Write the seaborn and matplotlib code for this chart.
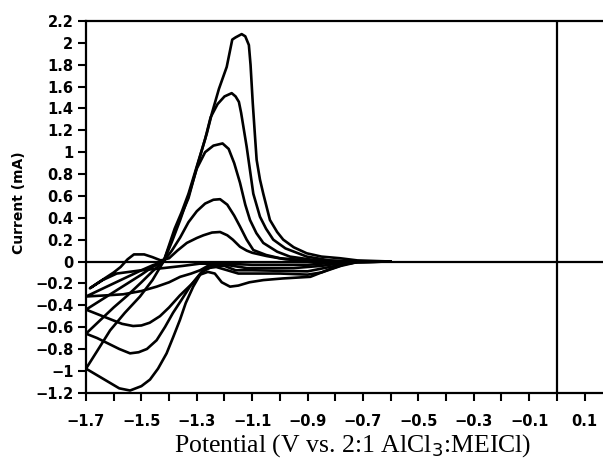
import matplotlib
matplotlib.use("Agg")
import matplotlib.pyplot as plt
import numpy as np
import pandas as pd
import seaborn as sns
from matplotlib.ticker import FixedLocator, FuncFormatter

# ---------------- data ----------------
scan1_potential = [-0.6, -0.8, -0.9, -1.0, -1.1, -1.2, -1.29, -1.35, -1.42, -1.5, -1.589, -1.64, -1.686,
                   -1.66, -1.63, -1.6, -1.575, -1.55, -1.527, -1.49, -1.46, -1.43, -1.40, -1.37, -1.336,
                   -1.30, -1.276, -1.245, -1.216, -1.19, -1.17, -1.144, -1.12, -1.1, -1.048, -0.98, -0.9, -0.6]
scan1_current = [0.0, -0.01, -0.03, -0.03, -0.03, -0.02, -0.02, -0.04, -0.06, -0.08, -0.11, -0.17, -0.245,
                 -0.2, -0.15, -0.1, -0.05, 0.02, 0.065, 0.065, 0.04, 0.01, 0.03, 0.1, 0.17,
                 0.215, 0.24, 0.265, 0.27, 0.24, 0.2, 0.135, 0.1, 0.08, 0.05, 0.02, 0.005, 0.0]

scan2_potential = [-0.6, -0.75, -0.85, -0.95, -1.05, -1.12, -1.17, -1.22, -1.26, -1.288, -1.32, -1.36, -1.40,
                   -1.445, -1.5, -1.566, -1.63, -1.7,
                   -1.65, -1.6, -1.55, -1.5, -1.46, -1.42, -1.39, -1.36, -1.33, -1.30, -1.27, -1.24, -1.216,
                   -1.19, -1.165, -1.144, -1.12, -1.096, -1.05, -1.0, -0.9, -0.8, -0.6]
scan2_current = [0.0, -0.005, -0.04, -0.06, -0.06, -0.06, -0.04, -0.02, -0.04, -0.08, -0.11, -0.14, -0.19,
                 -0.23, -0.27, -0.30, -0.31, -0.32,
                 -0.26, -0.2, -0.14, -0.08, -0.035, 0.0, 0.1, 0.22, 0.36, 0.46, 0.53, 0.565, 0.57,
                 0.52, 0.42, 0.32, 0.2, 0.105, 0.06, 0.03, 0.01, 0.0, 0.0]

scan3_potential = [-0.6, -0.72, -0.8, -0.9, -1.0, -1.1, -1.16, -1.2, -1.24, -1.27, -1.288, -1.32, -1.361,
                   -1.40, -1.433, -1.47, -1.5, -1.53, -1.57, -1.62, -1.66, -1.7,
                   -1.65, -1.6, -1.55, -1.5, -1.46, -1.42, -1.39, -1.36, -1.33, -1.30, -1.27, -1.24, -1.207,
                   -1.185, -1.165, -1.144, -1.125, -1.108, -1.085, -1.06, -1.01, -0.964, -0.88, -0.78, -0.6]
scan3_current = [0.0, -0.005, -0.04, -0.09, -0.085, -0.08, -0.08, -0.04, -0.04, -0.08, -0.12, -0.21, -0.31,
                 -0.42, -0.50, -0.56, -0.585, -0.59, -0.57, -0.52, -0.48, -0.44,
                 -0.36, -0.28, -0.2, -0.12, -0.05, 0.0, 0.18, 0.38, 0.6, 0.85, 1.0, 1.06, 1.08,
                 1.03, 0.9, 0.72, 0.52, 0.38, 0.26, 0.17, 0.09, 0.045, 0.015, 0.0, 0.0]

scan4_potential = [-0.6, -0.72, -0.78, -0.85, -0.9, -1.0, -1.08, -1.15, -1.19, -1.23, -1.26, -1.278, -1.30,
                   -1.325, -1.355, -1.386, -1.415, -1.445, -1.48, -1.51, -1.541, -1.58, -1.62, -1.66, -1.7,
                   -1.65, -1.6, -1.55, -1.5, -1.46, -1.42, -1.39, -1.36, -1.33, -1.30, -1.27, -1.25, -1.225,
                   -1.2, -1.174, -1.16, -1.148, -1.14, -1.12, -1.096, -1.072, -1.05, -1.024, -0.98, -0.903,
                   -0.82, -0.72, -0.6]
scan4_current = [0.0, -0.005, -0.04, -0.10, -0.12, -0.11, -0.11, -0.11, -0.08, -0.05, -0.06, -0.08, -0.15,
                 -0.23, -0.35, -0.47, -0.60, -0.72, -0.80, -0.83, -0.84, -0.80, -0.75, -0.70, -0.66,
                 -0.54, -0.42, -0.31, -0.19, -0.09, 0.0, 0.2, 0.4, 0.58, 0.86, 1.12, 1.32, 1.44,
                 1.51, 1.54, 1.51, 1.46, 1.36, 1.05, 0.62, 0.41, 0.3, 0.2, 0.12, 0.045,
                 0.01, 0.0, 0.0]

scan5_potential = [-0.6, -0.72, -0.76, -0.82, -0.89, -0.99, -1.06, -1.11, -1.15, -1.18, -1.21, -1.235, -1.26,
                   -1.288, -1.313, -1.34, -1.361, -1.385, -1.409, -1.44, -1.469, -1.50, -1.541, -1.58,
                   -1.62, -1.66, -1.7,
                   -1.66, -1.613, -1.56, -1.505, -1.46, -1.42, -1.40, -1.38, -1.355, -1.33, -1.30, -1.264,
                   -1.245, -1.22, -1.192, -1.172, -1.16, -1.138, -1.125, -1.112, -1.106, -1.098, -1.09,
                   -1.084, -1.072, -1.06, -1.036, -1.01, -0.988, -0.95, -0.903, -0.85, -0.783, -0.72, -0.6]
scan5_current = [0.0, -0.005, -0.02, -0.07, -0.14, -0.155, -0.17, -0.19, -0.22, -0.23, -0.19, -0.11, -0.095,
                 -0.12, -0.23, -0.38, -0.535, -0.69, -0.84, -0.98, -1.08, -1.14, -1.18, -1.16,
                 -1.10, -1.04, -0.98,
                 -0.82, -0.63, -0.47, -0.32, -0.17, 0.0, 0.15, 0.3, 0.45, 0.62, 0.87, 1.17,
                 1.36, 1.58, 1.78, 2.03, 2.05, 2.08, 2.06, 1.98, 1.8, 1.45, 1.15,
                 0.93, 0.75, 0.62, 0.38, 0.27, 0.20, 0.13, 0.075, 0.045, 0.03, 0.01, 0.0]

x_tick_values = [-1.7, -1.5, -1.3, -1.1, -0.9, -0.7, -0.5, -0.3, -0.1, 0.1]
x_minor_values = [-1.6, -1.4, -1.2, -1.0, -0.8, -0.6, -0.4, -0.2, 0.0]
y_tick_values = [-1.2, -1.0, -0.8, -0.6, -0.4, -0.2, 0.0, 0.2, 0.4, 0.6, 0.8, 1.0,
                 1.2, 1.4, 1.6, 1.8, 2.0, 2.2]

x_label = r"Potential (V vs. 2:1 AlCl$_3$:MEICl)"
y_label = "Current (mA)"

scans = {
    "scan1": (scan1_potential, scan1_current),
    "scan2": (scan2_potential, scan2_current),
    "scan3": (scan3_potential, scan3_current),
    "scan4": (scan4_potential, scan4_current),
    "scan5": (scan5_potential, scan5_current),
}
frames = []
for name, (e, i) in scans.items():
    frames.append(pd.DataFrame({"scan": name, "step": np.arange(len(e)),
                                "E": e, "I": i}))
df = pd.concat(frames, ignore_index=True)

# ---------------- figure ----------------
sns.set_theme(style="ticks")
plt.rcParams["font.family"] = ["DejaVu Sans"]

W, H = 603, 458
fig = plt.figure(figsize=(W / 100, H / 100), dpi=100)
left, right, top, bottom = 86, 603, 21, 392.7
ax = fig.add_axes([left / W, 1 - bottom / H, (right - left) / W, (bottom - top) / H])

sns.lineplot(data=df, x="E", y="I", units="scan", estimator=None, sort=False,
             color="black", linewidth=1.9, ax=ax, legend=False)

ax.axhline(0, color="black", lw=1.6, zorder=1)
ax.axvline(0, color="black", lw=1.6, zorder=1)

px_per_volt = 277.0
ax.set_xlim(-1.7, -1.7 + (right - left) / px_per_volt)
ax.set_ylim(-1.2, 2.2)

ax.xaxis.set_major_locator(FixedLocator(x_tick_values))
ax.xaxis.set_minor_locator(FixedLocator(x_minor_values))
ax.yaxis.set_major_locator(FixedLocator(y_tick_values))


def fmt_x(v, pos):
    return f"{v:.1f}".replace("-", "\u2212")


def fmt_y(v, pos):
    v = round(v, 1)
    s = f"{v:g}"
    if s == "-0":
        s = "0"
    return s.replace("-", "\u2212")


ax.xaxis.set_major_formatter(FuncFormatter(fmt_x))
ax.yaxis.set_major_formatter(FuncFormatter(fmt_y))

ax.tick_params(axis="both", which="both", direction="out", length=6, width=1.5,
               color="black")
ax.tick_params(axis="x", which="major", pad=9)
ax.tick_params(axis="y", which="major", pad=3)
for lab in ax.get_xticklabels() + ax.get_yticklabels():
    lab.set_fontfamily("DejaVu Sans")
    lab.set_fontweight("bold")
    lab.set_fontsize(10.5)
    lab.set_color("black")

for side in ["left", "bottom", "top"]:
    ax.spines[side].set_linewidth(1.6)
    ax.spines[side].set_color("black")
ax.spines["right"].set_visible(False)

ax.set_xlabel("")
ax.set_ylabel("")
fig.text(353 / W, 6 / H, x_label, ha="center", va="baseline",
         fontfamily="Liberation Serif", fontsize=18.5, color="black")
fig.text(19 / W, 1 - 203 / H, y_label, ha="center", va="center", rotation=90,
         fontfamily="DejaVu Sans", fontweight="bold", fontsize=10, color="black")

fig.savefig("out.png", dpi=100)
